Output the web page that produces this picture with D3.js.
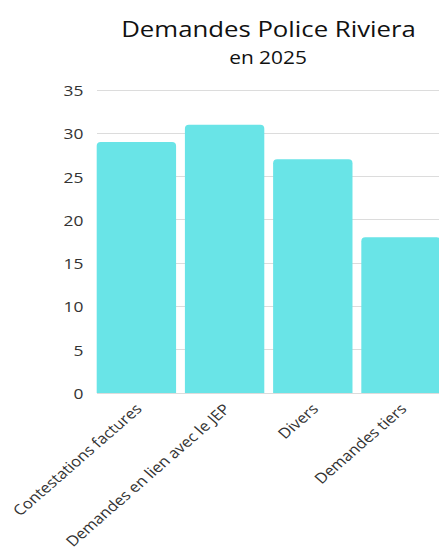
<!DOCTYPE html>
<html><head><meta charset="utf-8">
<script src="https://cdn.jsdelivr.net/npm/d3@7"></script>
<style>body{margin:0;background:#fff;font-family:"Open Sans",sans-serif;}</style>
</head><body>
<svg id="chart" width="439" height="554"></svg>
<script>
const categories = ["Contestations factures","Demandes en lien avec le JEP","Divers","Demandes tiers"];
const values = [29, 31, 27, 18];
const yTicks = [0,5,10,15,20,25,30,35];
const title = "Demandes Police Riviera";
const subtitle = "en 2025";

const SX = 1.16;
const svg = d3.select("#chart");
const W = 439;
const x = d3.scaleBand().domain(categories).range([96.7, 440.7]).paddingInner(0.1).paddingOuter(0);
const y = d3.scaleLinear().domain([0,35]).range([393, 90]);

svg.append("text").attr("transform",`translate(268.5,37) scale(${SX},1)`).attr("text-anchor","middle")
  .attr("font-size",22.2).attr("fill","#111").text(title);
svg.append("text").attr("transform",`translate(268,64) scale(${SX},1)`).attr("text-anchor","middle")
  .attr("font-size",18).attr("fill","#111").text(subtitle);

// grid
svg.append("g").selectAll("line").data(yTicks).join("line")
  .attr("x1",96.7).attr("x2",W).attr("y1",d=>y(d)).attr("y2",d=>y(d))
  .attr("stroke","#dcdcdc").attr("stroke-width",1).attr("shape-rendering","crispEdges");

const yAxis = svg.append("g").attr("transform","translate(83.5,0)")
  .call(d3.axisLeft(y).tickValues(yTicks).tickSize(0).tickPadding(0));
yAxis.select(".domain").remove();
yAxis.selectAll("text").attr("font-family","Open Sans").attr("font-size",15).attr("fill","#333")
  .attr("x",null).attr("dy",null).attr("dominant-baseline","central")
  .attr("transform",`scale(${SX},1)`);

const r = 4;
function barPath(x0,y0,w,h){
  const rr = Math.min(r,h,w/2);
  return `M${x0},${y0+h}V${y0+rr}Q${x0},${y0} ${x0+rr},${y0}H${x0+w-rr}Q${x0+w},${y0} ${x0+w},${y0+rr}V${y0+h}Z`;
}
svg.append("g").selectAll("path").data(values).join("path")
  .attr("d",(d,i)=>barPath(x(categories[i]), y(d), x.bandwidth(), y(0)-y(d)))
  .attr("fill","#69E4E7");

const xAxis = svg.append("g").attr("transform","translate(0,393)")
  .call(d3.axisBottom(x).tickSize(0).tickPadding(0));
xAxis.select(".domain").remove();
xAxis.selectAll("text").attr("font-family","Open Sans").attr("font-size",14.4).attr("fill","#333")
  .attr("text-anchor","end").attr("dy",0).attr("y",0)
  .attr("transform",`translate(6.5,17) scale(1.15,1) rotate(-45)`);
</script>
</body></html>
